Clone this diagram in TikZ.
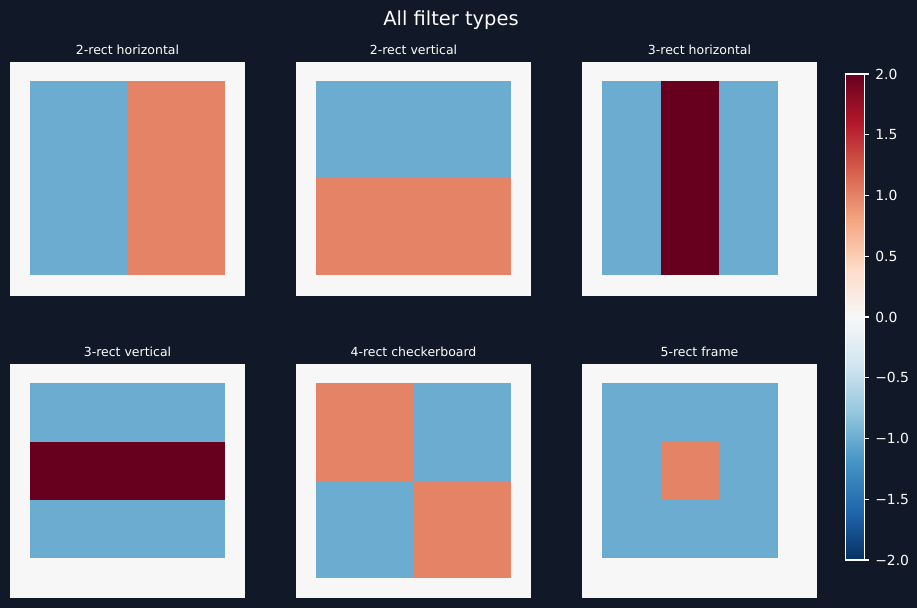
\documentclass[tikz,border=0pt]{standalone}
\usepackage{fontspec}
\setmainfont{DejaVu Sans}
\definecolor{bg}{HTML}{111827}
\definecolor{zero}{HTML}{F7F7F7}
\definecolor{neg}{HTML}{6BACD0}
\definecolor{pos}{HTML}{E58367}
\definecolor{dred}{HTML}{67001F}
\definecolor{cA}{HTML}{053061}
\definecolor{cB}{HTML}{2166AC}
\definecolor{cC}{HTML}{4393C3}
\definecolor{cD}{HTML}{92C5DE}
\definecolor{cE}{HTML}{D1E5F0}
\definecolor{cF}{HTML}{F7F7F7}
\definecolor{cG}{HTML}{FDDBC7}
\definecolor{cH}{HTML}{F4A582}
\definecolor{cI}{HTML}{D6604D}
\definecolor{cJ}{HTML}{B2182B}
\definecolor{cK}{HTML}{67001F}
\pgfdeclareverticalshading{rdbu}{100bp}{color(0bp)=(cA); color(25bp)=(cA); color(30bp)=(cB); color(35bp)=(cC); color(40bp)=(cD); color(45bp)=(cE); color(50bp)=(cF); color(55bp)=(cG); color(60bp)=(cH); color(65bp)=(cI); color(70bp)=(cJ); color(75bp)=(cK); color(100bp)=(cK)}
\tikzset{
  panelbg/.style={fill=zero},
  negcell/.style={fill=neg},
  poscell/.style={fill=pos},
  redcell/.style={fill=dred},
  ptitle/.style={text=white, font=\fontsize{9pt}{10pt}\selectfont, anchor=base, inner sep=0pt},
  ticklab/.style={text=white, font=\fontsize{10pt}{12pt}\selectfont, anchor=west, inner sep=0pt},
  tickmark/.style={draw=white, line width=0.8pt},
}
\begin{document}
\begin{tikzpicture}[x=0.72pt, y=-0.72pt]
\useasboundingbox[fill=bg] (0,0) rectangle (917,608);
% title
\node[text=white, font=\fontsize{14pt}{16pt}\selectfont, anchor=base, inner sep=0pt] (title) at (451,25.5) {All filter types};
% panel titles
\node[ptitle] (t1) at (127.5,54.7) {2-rect horizontal};
\node[ptitle] (t2) at (413.5,54.7) {2-rect vertical};
\node[ptitle] (t3) at (699.5,54.7) {3-rect horizontal};
\node[ptitle] (t4) at (127.5,356.7) {3-rect vertical};
\node[ptitle] (t5) at (413.5,356.7) {4-rect checkerboard};
\node[ptitle] (t6) at (699.5,356.7) {5-rect frame};
% panel 1
\fill[panelbg] (10,62) rectangle (245,296);
\fill[negcell] (30,81) rectangle (127.5,275);
\fill[poscell] (127.5,81) rectangle (225,275);
% panel 2
\fill[panelbg] (296,62) rectangle (531,296);
\fill[negcell] (316,81) rectangle (511,178);
\fill[poscell] (316,178) rectangle (511,275);
% panel 3
\fill[panelbg] (582,62) rectangle (817,296);
\fill[negcell] (602,81) rectangle (660.5,275);
\fill[redcell] (660.5,81) rectangle (719,275);
\fill[negcell] (719,81) rectangle (778,275);
% panel 4
\fill[panelbg] (10,364) rectangle (245,598);
\fill[negcell] (30,383) rectangle (225,441.5);
\fill[redcell] (30,441.5) rectangle (225,500);
\fill[negcell] (30,500) rectangle (225,558);
% panel 5
\fill[panelbg] (296,364) rectangle (531,598);
\fill[poscell] (316,383) rectangle (413.5,480.5);
\fill[negcell] (413.5,383) rectangle (511,480.5);
\fill[negcell] (316,480.5) rectangle (413.5,578);
\fill[poscell] (413.5,480.5) rectangle (511,578);
% panel 6
\fill[panelbg] (582,364) rectangle (817,598);
\fill[negcell] (602,383) rectangle (778,558);
\fill[poscell] (660.5,441.5) rectangle (719,500);
% colorbar
\shade[shading=rdbu] (845.5,74) rectangle (864.5,560);
\draw[white, line width=0.8pt] (845.5,74) rectangle (864.5,560);
\foreach \i/\lab in {0/2.0,1/1.5,2/1.0,3/0.5,4/0.0,5/−0.5,6/−1.0,7/−1.5,8/−2.0}{
  \draw[tickmark] (864.5,74+60.75*\i) -- (869.4,74+60.75*\i);
  \node[ticklab] (tick\i) at (875,74+60.75*\i) {\lab};
}
\end{tikzpicture}
\end{document}
